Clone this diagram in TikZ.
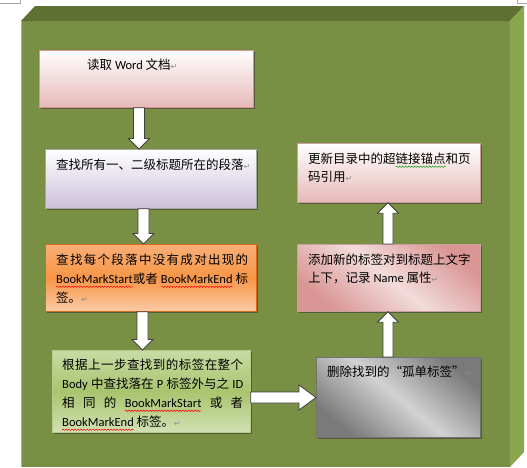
\documentclass[tikz,border=0pt]{standalone}
\usepackage{fontspec}
\newfontfamily\cjk{Noto Sans CJK SC}
\newfontfamily\lat{Carlito}
\newfontfamily\djv{DejaVu Sans}
\usetikzlibrary{calc,shadows,decorations.pathmorphing}
\definecolor{frontc}{HTML}{798F44}
\definecolor{topc}{HTML}{5E7133}
\definecolor{sidec}{HTML}{8AA64E}
\definecolor{edgec}{HTML}{A9BD7C}
\definecolor{shadowc}{HTML}{565A3C}
\definecolor{pinkB}{HTML}{E6B9B8}
\definecolor{pinkD}{HTML}{D99694}
\definecolor{pinkL}{HTML}{F2DCDB}
\definecolor{pinkF}{HTML}{C8A09E}
\definecolor{lavB}{HTML}{CCC0DA}
\definecolor{oraT}{HTML}{F9AE76}
\definecolor{oraM}{HTML}{F79646}
\definecolor{oraB}{HTML}{FBCBA6}
\definecolor{oraE}{HTML}{D9681A}
\definecolor{grnT}{HTML}{C9DBA5}
\definecolor{grnM}{HTML}{A9C46E}
\definecolor{grnB}{HTML}{D1E0B3}
\definecolor{grnE}{HTML}{B5CB88}
\definecolor{gryD}{HTML}{7A7A7A}
\definecolor{gryL}{HTML}{D2D2D2}
\newcommand\wavy[2]{\tikz[baseline=0pt]{\node[anchor=base west,inner sep=0pt,outer sep=0pt] (wv) at (0,0) {#2};
  \draw[#1, line width=0.5pt, decorate, decoration={snake,amplitude=0.7pt,segment length=3pt}, overlay]
  ($(wv.base west)+(0,-3pt)$) -- ($(wv.base east)+(0,-3pt)$);}}
\newcommand\pmark{{\djv\fontsize{8}{8}\selectfont\textcolor{black!45}{↵}}}
\newcommand\jl[2]{\hbox to #1{\spaceskip=0pt plus 1fil\relax #2}}
\newcommand\downblk[3]{\draw[blk] let \p1=(#1.south), \p2=(#2.north) in
  (#3pt-5.5pt,\y1) -- (#3pt+5.5pt,\y1) -- (#3pt+5.5pt,\y2+10.5pt) -- (#3pt+10.5pt,\y2+10.5pt)
  -- (#3pt,\y2) -- (#3pt-10.5pt,\y2+10.5pt) -- (#3pt-5.5pt,\y2+10.5pt) -- cycle;}
\newcommand\upblk[3]{\draw[blk] let \p1=(#1.north), \p2=(#2.south) in
  (#3pt-5pt,\y1) -- (#3pt+5pt,\y1) -- (#3pt+5pt,\y2-10.5pt) -- (#3pt+10.5pt,\y2-10.5pt)
  -- (#3pt,\y2) -- (#3pt-10.5pt,\y2-10.5pt) -- (#3pt-5pt,\y2-10.5pt) -- cycle;}
\newcommand\rightblk[3]{\draw[blk] let \p1=(#1.east), \p2=(#2.west) in
  (\x1,-#3pt+5.5pt) -- (\x2-17pt,-#3pt+5.5pt) -- (\x2-17pt,-#3pt+12.5pt) -- (\x2,-#3pt)
  -- (\x2-17pt,-#3pt-12.5pt) -- (\x2-17pt,-#3pt-5.5pt) -- (\x1,-#3pt-5.5pt) -- cycle;}
\tikzset{
  box/.style={draw, line width=0.8pt, inner sep=0pt, anchor=north west,
    drop shadow={shadow xshift=2pt, shadow yshift=-2pt, fill=shadowc, opacity=1}},
  txt/.style={anchor=north west, inner sep=0pt, align=left,
    font=\cjk\fontsize{12.5}{19}\selectfont},
  txtr/.style={txt, font=\cjk\fontsize{12.5}{18}\selectfont},
  blk/.style={fill=white, draw=black!75, line width=0.8pt, line join=miter},
  pagemark/.style={draw=black!35, line width=0.6pt}
}
\begin{document}
\begin{tikzpicture}[x=1pt,y=-1pt]
\useasboundingbox (0,0) rectangle (527,467);
% page corner marks
\draw[pagemark] (0,3) -- (20,3) -- (20,0);
\draw[pagemark] (527,3) -- (517,3) -- (517,0);
% bevelled frame
\fill[frontc] (21,21) rectangle (510,467);
\fill[topc] (21,21) -- (35,6) -- (524,6) -- (510,21) -- cycle;
\fill[sidec] (510,21) -- (524,6) -- (524,452) -- (510,467) -- cycle;
\draw[edgec, line width=0.6pt] (21,21) -- (21,467);
% boxes
\node[box, minimum width=214pt, minimum height=57pt, draw=pinkD,
  top color=white, bottom color=pinkB, middle color=white!50!pinkB] (b1) at (39,50) {};
\node[box, minimum width=211pt, minimum height=59pt, draw=black!35,
  top color=white, bottom color=lavB] (b2) at (45,149) {};
\node[box, minimum width=211pt, minimum height=67pt, draw=oraE,
  top color=oraT, bottom color=oraB, middle color=oraM] (b3) at (45,244) {};
\node[box, minimum width=198pt, minimum height=82pt, draw=grnE,
  top color=grnT, bottom color=grnB, middle color=grnM] (b4) at (52,350) {};
\node[box, minimum width=164pt, minimum height=80pt, draw=black!55,
  top color=gryD, bottom color=gryD, middle color=gryL, shading angle=-40] (b5) at (316,357) {};
\node[box, minimum width=183pt, minimum height=67pt, draw=pinkF,
  top color=pinkD, bottom color=pinkD, middle color=pinkL, shading angle=-40] (b6) at (297,244) {};
\node[box, minimum width=183pt, minimum height=59pt, draw=pinkF,
  top color=white, bottom color=pinkB] (b7) at (297,143) {};
% texts
\node[txt] (t1) at (87,59) {读取 {\lat Word} 文档\pmark};
\node[txt] (t2) at (56,159) {查找所有一、二级标题所在的段落\pmark};
\node[txt] (t3) at (56,254) {\jl{192pt}{查 找 每 个 段 落 中 没 有 成 对 出 现 的}\\
  \jl{192pt}{\wavy{red}{\lat BookMarkStart}或者 \wavy{red}{\lat BookMarkEnd} 标}\\
  签。\pmark};
\node[txt] (t4) at (62,359) {\jl{181pt}{根 据 上 一 步 查 找 到 的 标 签 在 整 个}\\
  \jl{181pt}{{\lat Body} 中查找落在 {\lat P} 标签外与之 {\lat ID}}\\
  \jl{181pt}{相 同 的 \wavy{red}{\lat BookMarkStart} 或 者}\\
  \wavy{red}{\lat BookMarkEnd} 标签。\pmark};
\node[txt] (t5) at (327,366) {删除找到的“孤单标签”\pmark};
\node[txtr] (t6) at (308,254) {添加新的标签对到标题上文字\\上下，记录 {\lat Name} 属性\pmark};
\node[txtr] (t7) at (308,153) {更新目录中的超\wavy{green!60!black}{链接锚点}和页\\码引用\pmark};
% block arrows
\downblk{b1}{b2}{139}
\downblk{b2}{b3}{143.5}
\downblk{b3}{b4}{142.5}
\rightblk{b4}{b5}{397.5}
\upblk{b5}{b6}{388}
\upblk{b6}{b7}{388}
\end{tikzpicture}
\end{document}
